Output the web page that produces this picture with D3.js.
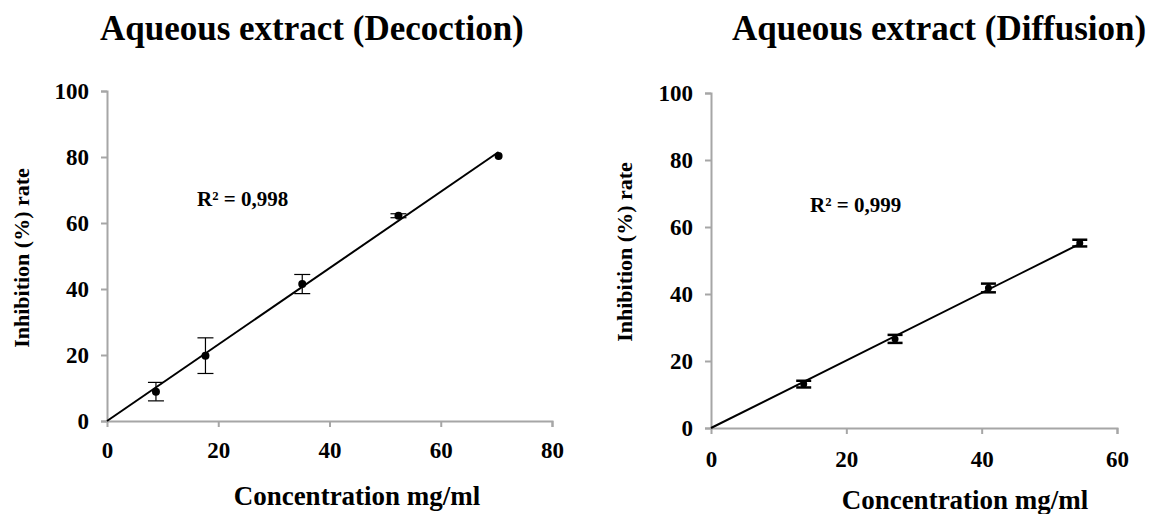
<!DOCTYPE html>
<html>
<head>
<meta charset="utf-8">
<script src="https://cdn.jsdelivr.net/npm/d3@7"></script>
<style>
  html, body { margin: 0; padding: 0; background: #fff; }
  svg { display: block; }
  text { font-family: "Liberation Serif", "Times New Roman", serif; font-weight: bold; fill: #000; }
</style>
</head>
<body>
<svg id="chart" width="1153" height="514"></svg>
<script>
// ---- Data ----
const decoctionConc  = [8.8, 17.7, 35.1, 52.4, 70.4];
const decoctionInhib = [8.9, 19.8, 41.5, 62.2, 80.3];
const decoctionErr   = [2.8, 5.4, 2.9, 0.6, 0];

const diffusionConc  = [13.7, 27.2, 41.0, 54.5];
const diffusionInhib = [13.1, 26.6, 41.8, 55.2];
const diffusionErr   = [1.0, 1.2, 1.3, 1.0];

const yTicks = [0, 20, 40, 60, 80, 100];
const decoctionXTicks = [0, 20, 40, 60, 80];
const diffusionXTicks = [0, 20, 40, 60];

const titles = ["Aqueous extract (Decoction)", "Aqueous extract (Diffusion)"];
const r2Labels = ["R² = 0,998", "R² = 0,999"];
const xLabel = "Concentration mg/ml";
const yLabel = "Inhibition (%) rate";

const svg = d3.select("#chart");
svg.append("rect").attr("width", 1153).attr("height", 514).attr("fill", "#fff");

function panel(cfg) {
  const g = svg.append("g");
  const x = d3.scaleLinear().domain(cfg.xDomain).range(cfg.xRange);
  const y = d3.scaleLinear().domain([0, 100]).range(cfg.yRange);

  // axes
  const yAxis = d3.axisLeft(y).tickValues(yTicks).tickSize(6).tickPadding(12).tickFormat(d3.format("d"));
  const xAxis = d3.axisBottom(x).tickValues(cfg.xTicks).tickSize(6).tickPadding(cfg.xPad).tickFormat(d3.format("d"));

  const ya = g.append("g").attr("transform", `translate(${cfg.xRange[0]},0)`).call(yAxis);
  const xa = g.append("g").attr("transform", `translate(0,${cfg.yRange[0]})`).call(xAxis);
  [ya, xa].forEach(a => {
    a.select(".domain").attr("stroke", "#a6a6a6").attr("stroke-width", 2);
    a.selectAll(".tick line").attr("stroke", "#a6a6a6").attr("stroke-width", 2);
    a.selectAll(".tick text").attr("font-size", 23).attr("font-family", "Liberation Serif, serif").attr("font-weight", "bold").attr("fill", "#000");
  });
  xa.selectAll(".tick").filter(d => d === 0).select("line").remove();

  // regression line through origin
  const pts = cfg.conc.map((c, i) => ({x: c, y: cfg.inhib[i], e: cfg.err[i]}));
  const slope = d3.sum(pts, p => p.x * p.y) / d3.sum(pts, p => p.x * p.x);
  const xMax = d3.max(pts, p => p.x);
  g.append("line")
    .attr("x1", x(0)).attr("y1", y(0))
    .attr("x2", x(xMax)).attr("y2", y(slope * xMax))
    .attr("stroke", "#000").attr("stroke-width", 2);

  // error bars
  const eb = g.append("g").selectAll("g").data(pts.filter(p => p.e > 0)).join("g");
  eb.append("line")
    .attr("x1", p => x(p.x)).attr("x2", p => x(p.x))
    .attr("y1", p => y(p.y + p.e)).attr("y2", p => y(p.y - p.e))
    .attr("stroke", "#000").attr("stroke-width", cfg.ebWidth);
  [1, -1].forEach(s => {
    eb.append("line")
      .attr("x1", p => x(p.x) - cfg.cap).attr("x2", p => x(p.x) + cfg.cap)
      .attr("y1", p => y(p.y + s * p.e)).attr("y2", p => y(p.y + s * p.e))
      .attr("stroke", "#000").attr("stroke-width", cfg.ebWidth);
  });

  // points
  g.append("g").selectAll("circle").data(pts).join("circle")
    .attr("cx", p => x(p.x)).attr("cy", p => y(p.y)).attr("r", cfg.r).attr("fill", "#000");

  // texts
  g.append("text").attr("x", cfg.titleX).attr("y", cfg.titleY).attr("font-size", 35).text(cfg.title);
  g.append("text").attr("x", cfg.r2X).attr("y", cfg.r2Y).attr("font-size", 21).text(cfg.r2);
  g.append("text").attr("x", cfg.xlX).attr("y", cfg.xlY).attr("text-anchor", "middle").attr("font-size", 27).text(xLabel);
  g.append("text").attr("transform", `translate(${cfg.ylX},${cfg.ylY}) rotate(-90)`)
    .attr("text-anchor", "middle").attr("font-size", 22).text(yLabel);
}

panel({
  xDomain: [0, 80], xRange: [107, 552], yRange: [421, 91], xTicks: decoctionXTicks, xPad: 15,
  conc: decoctionConc, inhib: decoctionInhib, err: decoctionErr,
  cap: 8, ebWidth: 1.2, r: 4,
  title: titles[0], titleX: 100, titleY: 40,
  r2: r2Labels[0], r2X: 197, r2Y: 206,
  xlX: 357, xlY: 505, ylX: 29, ylY: 258
});

panel({
  xDomain: [0, 60], xRange: [711, 1117], yRange: [428, 93], xTicks: diffusionXTicks, xPad: 17,
  conc: diffusionConc, inhib: diffusionInhib, err: diffusionErr,
  cap: 7.5, ebWidth: 2.5, r: 3.5,
  title: titles[1], titleX: 732, titleY: 40,
  r2: r2Labels[1], r2X: 810, r2Y: 212,
  xlX: 965, xlY: 509, ylX: 632, ylY: 252
});
</script>
</body>
</html>
